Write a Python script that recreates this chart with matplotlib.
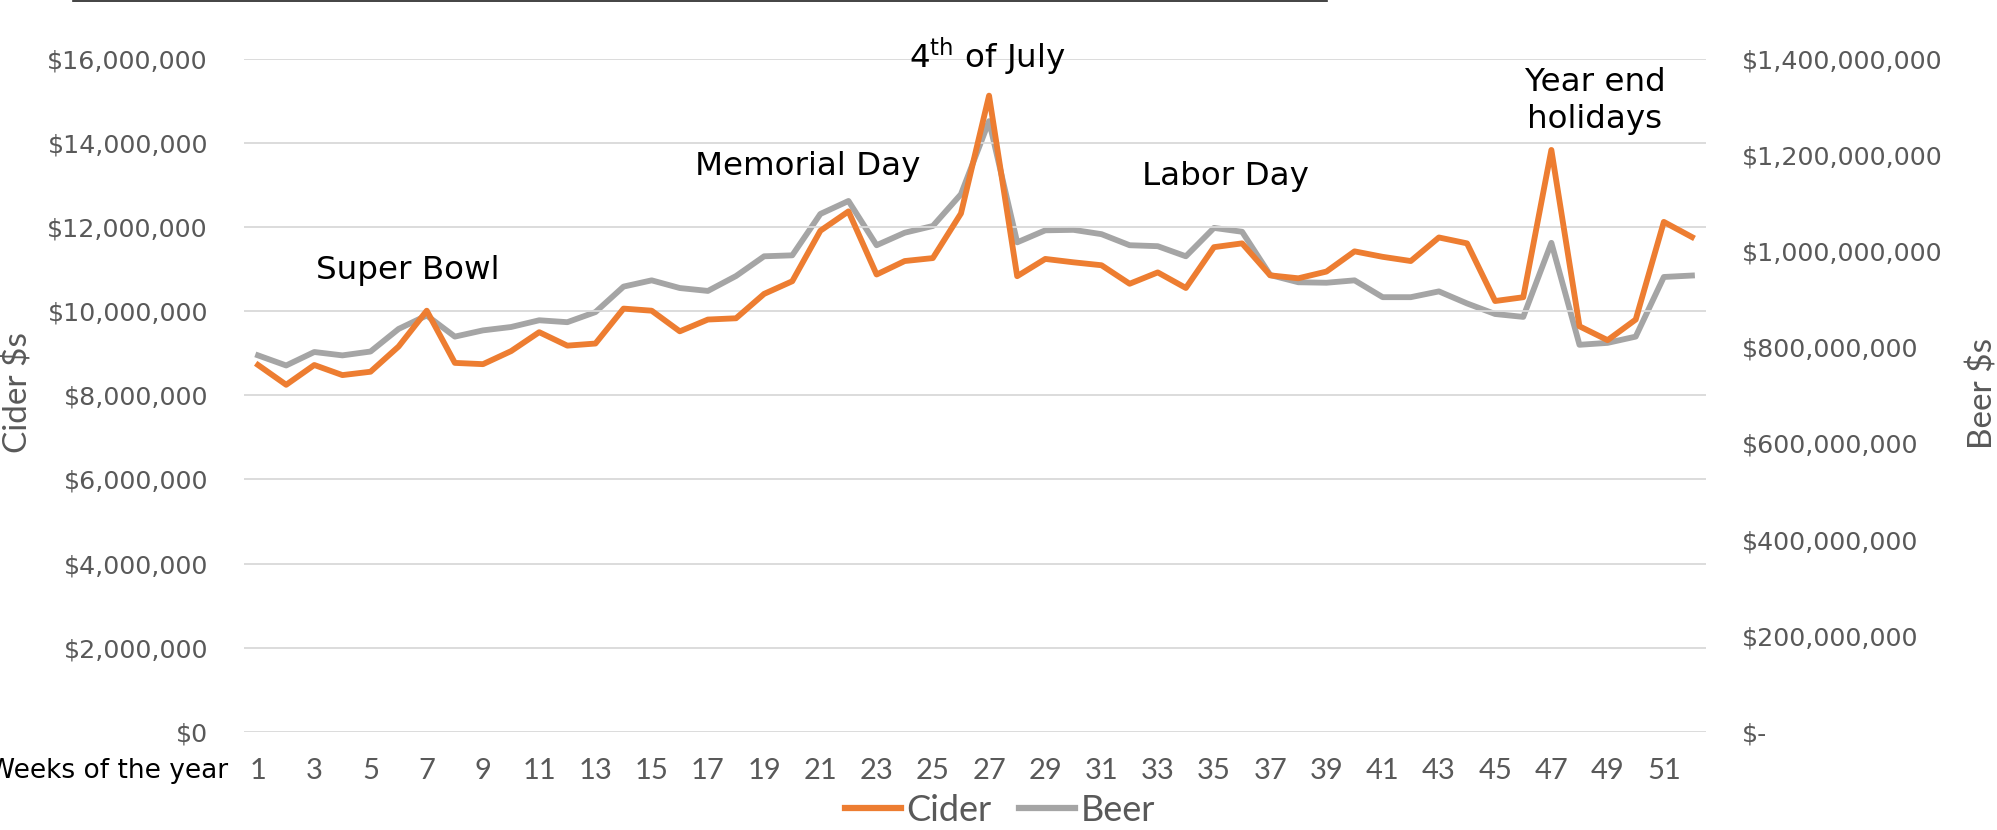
import matplotlib
matplotlib.use("Agg")
import matplotlib.pyplot as plt
from matplotlib.lines import Line2D
from matplotlib.ticker import FuncFormatter

# weekly sales
weeks = list(range(1, 53))
cider = [8.72, 8.25, 8.72, 8.48, 8.56, 9.16, 10.01, 8.77, 8.74, 9.05,
         9.50, 9.18, 9.23, 10.06, 10.01, 9.52, 9.80, 9.83, 10.41, 10.71,
         11.91, 12.37, 10.87, 11.19, 11.26, 12.32, 15.12, 10.83, 11.24, 11.16,
         11.09, 10.65, 10.92, 10.55, 11.52, 11.61, 10.85, 10.78, 10.94, 11.42,
         11.29, 11.19, 11.75, 11.61, 10.24, 10.33, 13.83, 9.64, 9.31, 9.80,
         12.12, 11.76]
cider = [v * 1e6 for v in cider]
beer = [783, 762, 790, 783, 791, 838, 866, 822, 835, 842,
        856, 852, 873, 926, 939, 923, 917, 948, 989, 991,
        1077, 1104, 1012, 1038, 1052, 1118, 1270, 1018, 1043, 1044,
        1035, 1012, 1010, 989, 1048, 1040, 950, 935, 934, 939,
        904, 904, 916, 891, 869, 863, 1017, 805, 809, 822,
        946, 949]
beer = [v * 1e6 for v in beer]

events = ["Super Bowl", "Memorial Day", r"4$^{\mathrm{th}}$ of July", "Labor Day", "Year end\nholidays"]
event_xy = [(408, 270), (808, 166), (987, 57), (1225, 176), (1595, 101)]  # pixel positions

ORANGE = "#ED7D31"
GREY = "#A5A5A5"
TICK = "#595959"
NARROW = ["Lato", "DejaVu Sans"]

W, H = 1997, 830
fig = plt.figure(figsize=(W / 100, H / 100), dpi=100)
l, r, b, t = 244, 1706, 732, 58.6
ax = fig.add_axes([l / W, 1 - b / H, (r - l) / W, (b - t) / H])
ax2 = ax.twinx()

ax.plot(weeks, cider, color=ORANGE, lw=4.2, zorder=3)
ax2.plot(weeks, beer, color=GREY, lw=4.2, zorder=2)
ax.set_zorder(ax2.get_zorder() + 1)
ax.patch.set_visible(False)

ax.set_xlim(0.5, 52.5)
ax.set_ylim(0, 16e6)
ax2.set_ylim(0, 1.4e9)
ax.set_yticks(range(0, 16000001, 2000000))
ax2.set_yticks(range(0, 1400000001, 200000000))
ax.set_xticks(weeks[::2])
ax.grid(axis="y", color="#D9D9D9", lw=1.3)
ax.set_axisbelow(True)

ax.yaxis.set_major_formatter(FuncFormatter(lambda v, p: f"${v:,.0f}"))
ax2.yaxis.set_major_formatter(FuncFormatter(lambda v, p: "$-" if v == 0 else f"${v:,.0f}"))

for a in (ax, ax2):
    for s in a.spines.values():
        s.set_visible(False)
    a.tick_params(length=0)
ax.tick_params(axis="y", labelsize=18.2, labelcolor=TICK, pad=26)
ax2.tick_params(axis="y", labelsize=18.2, labelcolor=TICK, pad=26)
ax.tick_params(axis="x", labelsize=21, labelcolor=TICK, pad=19)
for lab in ax.get_xticklabels():
    lab.set_family(NARROW)

fig.text(18 / W, 1 - 393 / H, "Cider $s", rotation=90, ha="center", va="center",
         fontsize=24, color=TICK, family=NARROW)
fig.text(1983 / W, 1 - 393 / H, "Beer $s", rotation=90, ha="center", va="center",
         fontsize=24, color=TICK, family=NARROW)
# cut off at the left edge, as in the original
fig.text(228 / W, 1 - 771 / H, "Weeks of the year", ha="right", va="center",
         fontsize=19, color="black")

for txt, (x, y) in zip(events, event_xy):
    fig.text(x / W, 1 - y / H, txt, ha="center", va="center", fontsize=23.4,
             color="black", linespacing=1.25)

# stray rule along the top edge
fig.add_artist(Line2D([73 / W, 1327 / W], [1 - 1.5 / H, 1 - 1.5 / H], color="#222222", lw=1.2))

handles = [Line2D([], [], color=ORANGE, lw=4.5), Line2D([], [], color=GREY, lw=4.5)]
leg = fig.legend(handles, ["Cider", "Beer"], loc="center", bbox_to_anchor=(1000 / W, 1 - 810 / H),
                 ncol=2, frameon=False, handlelength=1.55, handletextpad=0.14, columnspacing=0.78,
                 borderpad=0, prop={"family": NARROW, "size": 26})
for txt in leg.get_texts():
    txt.set_color(TICK)

fig.savefig("out.png", dpi=100)
